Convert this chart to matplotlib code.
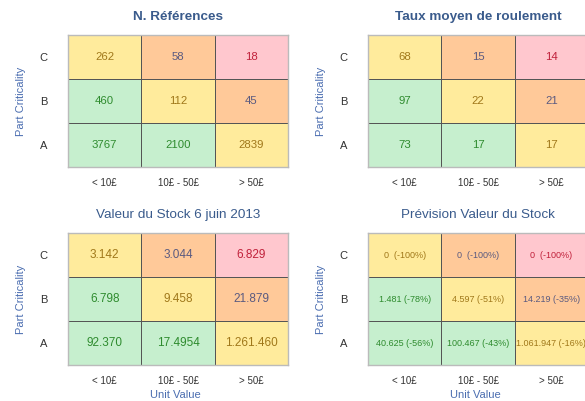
import numpy as np
import matplotlib.pyplot as plt
from matplotlib.colors import ListedColormap

plt.rcParams['font.family'] = ['Liberation Sans', 'DejaVu Sans']

rows = ['A', 'B', 'C']
cols = ['< 10£', '10£ - 50£', '> 50£']

# niveau de couleur par cellule (0 vert, 1 jaune, 2 orange, 3 rouge), lignes A, B, C
niveaux = [[0, 0, 1],
           [0, 1, 2],
           [1, 2, 3]]

titres = ['N. Références', 'Taux moyen de roulement',
          'Valeur du Stock 6 juin 2013', 'Prévision Valeur du Stock']

n_refs = [['3767', '2100', '2839'],
          ['460', '112', '45'],
          ['262', '58', '18']]
taux = [['73', '17', '17'],
        ['97', '22', '21'],
        ['68', '15', '14']]
valeur = [['92.370', '17.4954', '1.261.460'],
          ['6.798', '9.458', '21.879'],
          ['3.142', '3.044', '6.829']]
prevision = [['40.625 (-56%)', '100.467 (-43%)', '1.061.947 (-16%)'],
             ['1.481 (-78%)', '4.597 (-51%)', '14.219 (-35%)'],
             ['0  (-100%)', '0  (-100%)', '0  (-100%)']]

fonds = ['#C6EFCE', '#FFEB9C', '#FFC999', '#FFC7CE']
textes = ['#2E8B2E', '#A0781A', '#5A5A80', '#C0203A']

W, H = 585, 401
fig = plt.figure(figsize=(W / 100, H / 100), dpi=100)

# (x0, y0, x1, y1) en pixels
boites = [(68, 35, 288, 167), (368, 35, 588, 167),
          (68, 233, 288, 365), (368, 233, 588, 365)]
tableaux = [n_refs, taux, valeur, prevision]
tailles = [8.2, 8.2, 8.5, 6.5]

for i in range(4):
    x0, y0, x1, y1 = boites[i]
    ax = fig.add_axes([x0 / W, 1 - y1 / H, (x1 - x0) / W, (y1 - y0) / H])
    ax.pcolormesh(np.array(niveaux), cmap=ListedColormap(fonds), vmin=-0.5, vmax=3.5,
                  edgecolors='#555555', linewidth=0.5)
    for r in range(3):
        for c in range(3):
            ax.text(c + 0.5, r + 0.5, tableaux[i][r][c], ha='center', va='center',
                    fontsize=tailles[i], color=textes[niveaux[r][c]])
    ax.set_xlim(0, 3)
    ax.set_ylim(0, 3)
    ax.set_xticks([0.5, 1.5, 2.5])
    ax.set_xticklabels(cols, fontsize=7, color='#333333')
    ax.set_yticks([0.5, 1.5, 2.5])
    ax.set_yticklabels(rows, fontsize=8, color='#333333')
    ax.tick_params(axis='x', length=0, pad=8)
    ax.tick_params(axis='y', length=0, pad=15)
    for s in ax.spines.values():
        s.set_color('#BBBBBB')
        s.set_linewidth(1)
    ax.set_title(titres[i], fontsize=9.7, color='#3A5B8C',
                 fontweight='bold' if i < 2 else 'normal', pad=11)
    # libellés d'axes placés à la main
    fig.text((x0 - 47) / W, 1 - (y0 + y1) / 2 / H, 'Part Criticality', rotation=90,
             ha='center', va='center', fontsize=8, color='#4A6DB0')
    if i >= 2:
        fig.text((x0 + 107) / W, 1 - 395 / H, 'Unit Value', ha='center', va='center',
                 fontsize=8, color='#4A6DB0')

fig.savefig('out.png', dpi=100)
